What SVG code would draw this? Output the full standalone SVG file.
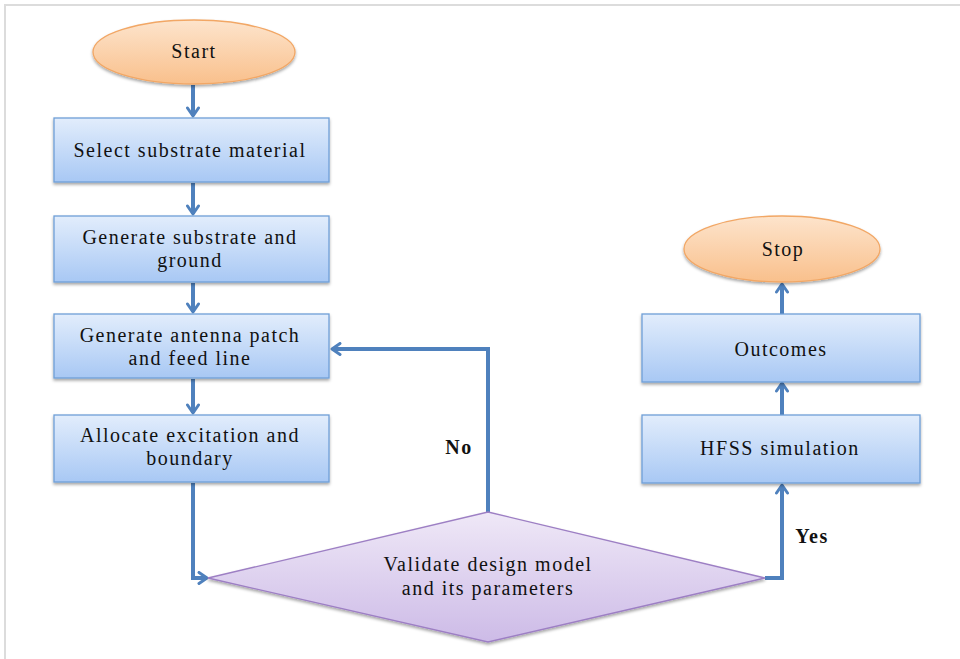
<svg xmlns="http://www.w3.org/2000/svg" width="960" height="659" viewBox="0 0 960 659">
<style>
.box{fill:url(#gBox);stroke:#6f9fd8;stroke-width:1.3;filter:url(#sh)}
.term{fill:url(#gTerm);stroke:#f2a765;stroke-width:1.3;filter:url(#sh)}
.dec{fill:url(#gDec);stroke:#9d7fc4;stroke-width:1.3;filter:url(#sh)}
.t{font-family:"Liberation Serif",serif;font-size:20px;letter-spacing:1.5px;fill:#111;text-anchor:middle}
.lbl{font-family:"Liberation Serif",serif;font-size:20px;letter-spacing:1.5px;font-weight:bold;fill:#111;text-anchor:middle}
.c{fill:none;stroke:#4f81bd;stroke-width:4;marker-end:url(#ah)}
</style>
<defs>
<linearGradient id="gBox" x1="0" y1="0" x2="0" y2="1"><stop offset="0" stop-color="#e2edfc"/><stop offset="1" stop-color="#a8c8f4"/></linearGradient>
<linearGradient id="gTerm" x1="0" y1="0" x2="0" y2="1"><stop offset="0" stop-color="#fde4cc"/><stop offset="1" stop-color="#f9c08c"/></linearGradient>
<linearGradient id="gDec" x1="0" y1="0" x2="0" y2="1"><stop offset="0" stop-color="#efe8f7"/><stop offset="1" stop-color="#cdbbe7"/></linearGradient>
<filter id="sh" x="-10%" y="-10%" width="120%" height="130%"><feDropShadow dx="0" dy="2" stdDeviation="1.5" flood-color="#000" flood-opacity="0.35"/></filter>
<marker id="ah" viewBox="0 0 14 14" refX="12" refY="7" markerWidth="14" markerHeight="14" markerUnits="userSpaceOnUse" orient="auto"><path d="M4,1.5 L12,7 L4,12.5" fill="none" stroke="#4f81bd" stroke-width="3" stroke-linecap="round" stroke-linejoin="round"/></marker>
</defs>
<rect width="960" height="659" fill="#fff"/>
<path d="M5,659 V5 H960" fill="none" stroke="#dcdcdc" stroke-width="2"/>
<g id="connectors">
<path class="c" d="M193,85 V116"/>
<path class="c" d="M193,183 V214"/>
<path class="c" d="M193,283 V312"/>
<path class="c" d="M193,379 V413"/>
<path class="c" d="M193,483 V578 H207"/>
<path class="c" d="M488,512 V349 H332"/>
<path class="c" d="M765,578 H782 V485"/>
<path class="c" d="M782,415 V383"/>
<path class="c" d="M782,314 V284"/>
</g>
<g id="start"><ellipse class="term" cx="194" cy="52" rx="101" ry="32"/><text class="t" x="194" y="58">Start</text></g>
<g id="select"><rect class="box" x="54" y="118" width="275" height="64"/><text class="t" x="190" y="157">Select  substrate material</text></g>
<g id="gensub"><rect class="box" x="54" y="216" width="275" height="66"/><text class="t" x="190" y="244">Generate substrate and</text><text class="t" x="190" y="267">ground</text></g>
<g id="genant"><rect class="box" x="54" y="314" width="275" height="64"/><text class="t" x="190" y="342">Generate antenna patch</text><text class="t" x="190" y="365">and feed line</text></g>
<g id="alloc"><rect class="box" x="54" y="415" width="275" height="67"/><text class="t" x="190" y="442">Allocate excitation and</text><text class="t" x="190" y="465">boundary</text></g>
<g id="validate"><polygon class="dec" points="208,578 488,512 765,578 488,642"/><text class="t" x="488" y="571">Validate design model</text><text class="t" x="488" y="595">and its parameters</text></g>
<g id="hfss"><rect class="box" x="642" y="415" width="278" height="68"/><text class="t" x="780" y="455">HFSS simulation</text></g>
<g id="outcomes"><rect class="box" x="642" y="314" width="278" height="68"/><text class="t" x="781" y="356">Outcomes</text></g>
<g id="stop"><ellipse class="term" cx="782" cy="249" rx="98" ry="33"/><text class="t" x="783" y="256">Stop</text></g>
<text class="lbl" x="459" y="454">No</text>
<text class="lbl" x="812" y="543">Yes</text>
</svg>
